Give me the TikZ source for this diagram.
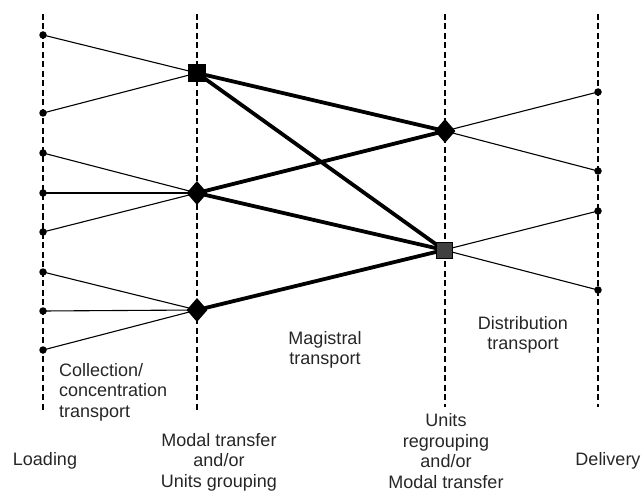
\documentclass[tikz,border=0pt]{standalone}
\usepackage{fontspec}
\setmainfont{Liberation Sans}
\usetikzlibrary{shapes.geometric, positioning, backgrounds}
\tikzset{stage/.style={draw,dashed,dash pattern=on 6pt off 3.5pt,line width=1.1pt},
         stop/.style={circle,fill=black,inner sep=0pt,minimum size=7.5pt},
         hubsq/.style={rectangle,fill=black,draw=black,inner sep=0pt,minimum size=17pt},
         hubdia/.style={diamond,fill=black,inner sep=0pt,minimum width=21pt,minimum height=24pt},
         feeder/.style={line width=1.1pt},
         trunk/.style={line width=3.8pt},
         caption/.style={font=\fontsize{18}{20.5}\selectfont,align=center,inner sep=0pt,text=black!85}}

\begin{document}
\begin{tikzpicture}[x=1pt,y=-1pt]
    \useasboundingbox (0,0) rectangle (643,492);
    % stage boundaries
    \foreach \name/\x/\yend in {load/43/410,group/197/410,regroup/445/407,deliv/598/407}{
      \coordinate (\name top) at (\x,14);
      \coordinate (\name bot) at (\x,\yend);
    }
    % terminals
    \node (hA) [hubsq] at (197,73) {};
    \node (hB) [hubdia] at (197,193) {};
    \node (hC) [hubdia] at (197,310) {};
    \node (hD) [hubdia] at (445,131) {};
    \node (hE) [hubsq, fill=black!75, minimum size=16pt] at (444,250) {};
    % loading points
    \foreach \i/\y in {1/35,2/113,3/153,4/193,5/232,6/272,7/311,8/350}
      \node (l\i) [stop] at (43,\y) {};
    % delivery points
    \foreach \i/\y in {1/92,2/171,3/211,4/290}
      \node (d\i) [stop] at (598,\y) {};
    \begin{scope}[on background layer]
      \foreach \name in {load,group,regroup,deliv}
        \draw[stage] (\name top) -- (\name bot);
      % collection links
      \foreach \i/\h in {1/hA,2/hA,3/hB,4/hB,5/hB,6/hC,7/hC,8/hC}
        \draw[feeder] (l\i.center) -- (\h.center);
      % distribution links
      \foreach \h/\i in {hD/1,hD/2,hE/3,hE/4}
        \draw[feeder] (\h.center) -- (d\i.center);
      % magistral links
      \foreach \s/\t in {hA/hD,hA/hE,hB/hD,hB/hE,hC/hE}
        \draw[trunk] (\s.center) -- (\t.center);
    \end{scope}
    % labels
    \node (collect) [caption, anchor=west, align=left] at (59,392) {Collection/\\concentration\\transport};
    \node (magis) [caption] at (325,350) {Magistral\\transport};
    \node (distr) [caption] at (523,335) {Distribution\\transport};
    \node (loadlbl) [caption] at (45,461) {Loading};
    \node (grouplbl) [caption] at (219,462) {Modal transfer\\and/or\\Units grouping};
    \node (regrlbl) [caption] at (446,451) {Units\\regrouping\\and/or\\Modal transfer};
    \node (delivlbl) [caption] at (608,461) {Delivery};
\end{tikzpicture}
\end{document}
